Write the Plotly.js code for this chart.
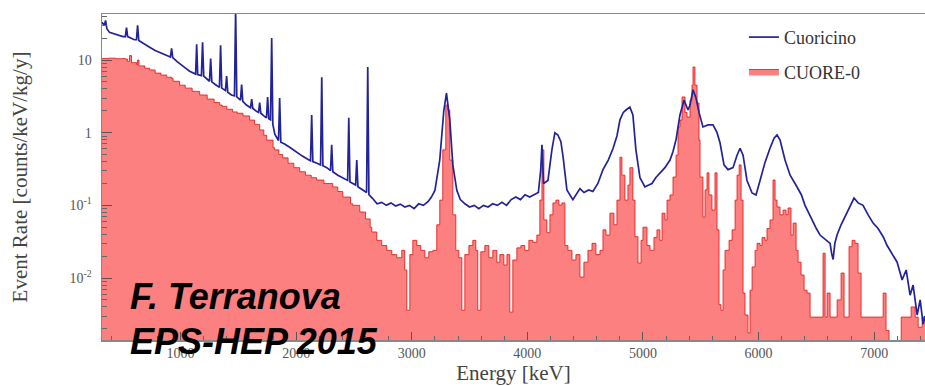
<!DOCTYPE html>
<html>
<head>
<meta charset="utf-8">
<script src="https://cdn.plot.ly/plotly-3.0.1.min.js"></script>
<style>html,body{margin:0;padding:0;background:#fff;}#chart{width:925px;height:386px;}</style>
</head>
<body>
<div id="chart"></div>
<script>
// Cuoricino spectrum (blue line): energy [keV] and rate [counts/keV/kg/y]
const cuoricinoEnergy = [320,340,351,362,385,420,460,500,522,532,542,570,600,618,628,638,680,732,780,830,880,912,922,932,970,1000,1040,1078,1110,1130,1139,1148,1180,1190,1200,1230,1250,1260,1270,1300,1336,1346,1356,1388,1398,1408,1440,1466,1476,1486,1518,1528,1538,1570,1605,1615,1625,1660,1674,1684,1694,1720,1743,1753,1763,1778,1788,1798,1815,1847,1857,1867,1900,1950,2000,2050,2100,2124,2134,2144,2180,2211,2221,2231,2265,2297,2307,2317,2360,2400,2445,2455,2465,2490,2514,2524,2534,2570,2609,2619,2629,2660,2700,2740,2780,2820,2860,2900,2940,2980,3020,3060,3100,3140,3170,3200,3242,3277,3300,3329,3355,3390,3420,3460,3500,3540,3580,3620,3660,3700,3740,3780,3820,3860,3900,3940,3980,4020,4060,4095,4115,4126,4140,4178,4212,4238,4264,4290,4310,4342,4394,4430,4455,4490,4530,4567,4610,4654,4700,4740,4775,4801,4830,4853,4887,4913,4939,4974,5017,5050,5078,5110,5147,5190,5234,5260,5286,5320,5355,5390,5407,5433,5459,5485,5519,5563,5606,5641,5667,5701,5736,5779,5814,5840,5866,5900,5944,5978,6013,6056,6099,6134,6160,6186,6229,6273,6333,6370,6402,6440,6472,6500,6532,6560,6584,6619,6632,6645,6660,6679,6714,6757,6792,6826,6861,6904,6948,6991,7034,7078,7112,7156,7199,7242,7277,7311,7337,7372,7398,7424,7440];
const cuoricinoRate = [33,30,35,27,24,23,22,21,21,28,21,20,19,19,30,18.5,17,15,13.5,12.5,11.5,11,14.5,10.8,9.5,8.8,7.8,7.0,6.6,6.4,16.5,6.3,6.1,17.5,6.0,5.4,5.1,10.5,5.0,4.6,4.2,16,4.1,3.8,6.0,3.6,3.3,3.2,50,3.1,2.8,4.6,2.7,2.4,2.2,2.9,2.15,1.95,1.9,2.6,1.85,1.7,1.6,3.1,1.55,1.5,20,1.3,0.95,0.78,3.0,0.74,0.7,0.62,0.54,0.48,0.43,0.41,1.75,0.4,0.38,0.36,5.8,0.35,0.33,0.30,0.68,0.29,0.26,0.24,0.22,1.6,0.21,0.2,0.19,0.42,0.18,0.165,0.15,8.0,0.14,0.125,0.105,0.11,0.1,0.108,0.098,0.104,0.095,0.1,0.09,0.105,0.1,0.112,0.13,0.16,0.42,2.0,3.5,1.5,0.36,0.16,0.12,0.105,0.095,0.1,0.09,0.1,0.095,0.105,0.1,0.11,0.1,0.12,0.13,0.12,0.14,0.13,0.14,0.15,0.3,0.68,0.2,0.22,0.58,1.0,0.93,0.75,0.45,0.163,0.12,0.15,0.17,0.15,0.163,0.155,0.2,0.31,0.42,0.6,0.9,1.5,1.9,2.05,2.25,1.75,0.58,0.24,0.18,0.19,0.2,0.24,0.28,0.33,0.42,0.55,0.8,1.75,2.8,2.05,2.4,3.9,3.0,1.9,1.2,1.28,1.28,1.0,0.72,0.36,0.31,0.33,0.49,0.61,0.49,0.22,0.148,0.139,0.22,0.39,0.61,0.84,0.93,0.79,0.42,0.26,0.179,0.14,0.1,0.075,0.057,0.048,0.039,0.036,0.033,0.03,0.022,0.018,0.03,0.039,0.054,0.074,0.1,0.126,0.108,0.1,0.074,0.057,0.048,0.037,0.028,0.021,0.0165,0.0094,0.0129,0.0058,0.008,0.0031,0.005,0.0023,0.003];

// CUORE-0 spectrum (red filled histogram)
const cuore0Energy = [320,380,440,500,520,540,558,575,620,628,640,690,732,780,830,879,922,935,991,1040,1100,1165,1230,1290,1338,1360,1400,1450,1490,1540,1597,1640,1684,1720,1745,1800,1814,1850,1883,1930,1980,2030,2080,2130,2177,2240,2316,2360,2403,2470,2489,2550,2600,2640,2654,2697,2740,2784,2827,2870,2913,2939,2957,2983,3009,3043,3078,3113,3147,3182,3216,3242,3268,3294,3312,3329,3355,3381,3407,3433,3459,3494,3528,3554,3571,3597,3632,3667,3701,3736,3762,3797,3823,3848,3874,3909,3944,3978,4013,4048,4082,4108,4126,4143,4169,4195,4221,4247,4273,4299,4325,4351,4386,4420,4455,4489,4524,4559,4593,4628,4654,4680,4714,4749,4775,4801,4818,4844,4870,4887,4913,4931,4957,4983,5000,5035,5061,5095,5121,5147,5165,5191,5208,5234,5260,5286,5303,5320,5338,5364,5381,5407,5424,5433,5450,5468,5485,5494,5519,5537,5554,5571,5597,5623,5641,5658,5675,5693,5710,5745,5771,5797,5814,5832,5849,5866,5883,5909,5926,5944,5970,5987,6013,6030,6056,6073,6099,6125,6143,6160,6186,6212,6238,6255,6281,6299,6325,6342,6368,6394,6420,6446,6481,6515,6541,6558,6576,6593,6619,6654,6680,6714,6740,6766,6783,6809,6835,6861,6887,6922,6956,6991,7026,7060,7078,7103,7129,7216,7234,7277,7320,7355,7381,7415,7440];
const cuore0Rate = [10.5,10.6,10.4,10.5,10.3,9.6,11.5,9.2,8.6,10,8.3,7.7,7.3,6.6,6.2,5.8,5.6,5.1,4.5,4.1,3.7,3.3,2.9,2.6,2.4,2.3,2.1,1.93,1.85,1.7,1.49,1.3,1.09,0.92,0.79,0.62,0.58,0.5,0.45,0.38,0.33,0.29,0.26,0.24,0.223,0.2,0.179,0.155,0.13,0.105,0.1,0.081,0.065,0.05,0.043,0.033,0.028,0.024,0.021,0.019,0.024,0.0129,0.0036,0.021,0.033,0.028,0.024,0.019,0.023,0.024,0.054,0.118,0.58,2.4,2.05,0.42,0.074,0.024,0.019,0.0036,0.021,0.028,0.033,0.024,0.0036,0.023,0.028,0.019,0.024,0.0165,0.021,0.0151,0.021,0.0034,0.0177,0.026,0.028,0.024,0.033,0.031,0.039,0.118,0.58,0.063,0.042,0.074,0.108,0.118,0.101,0.108,0.028,0.024,0.0177,0.021,0.0103,0.0165,0.024,0.03,0.021,0.024,0.046,0.039,0.078,0.054,0.118,0.46,0.26,0.118,0.19,0.33,0.118,0.037,0.0161,0.033,0.05,0.028,0.024,0.036,0.046,0.033,0.078,0.063,0.118,0.139,0.245,0.49,1.2,1.49,3.1,1.9,1.64,2.8,4.5,8.0,4.5,2.56,0.79,0.245,0.069,0.163,0.28,0.139,0.086,0.28,0.046,0.0043,0.0036,0.0129,0.024,0.033,0.046,0.118,0.26,0.36,0.118,0.0062,0.0031,0.00175,0.0068,0.0142,0.024,0.03,0.028,0.036,0.033,0.048,0.063,0.223,0.118,0.095,0.074,0.086,0.074,0.092,0.039,0.057,0.024,0.0165,0.011,0.0068,0.0062,0.0029,0.0029,0.0029,0.0029,0.022,0.0029,0.0062,0.0029,0.0029,0.005,0.0117,0.0029,0.0029,0.027,0.033,0.03,0.0117,0.0029,0.0029,0.0029,0.0029,0.0029,0.0029,0.0062,0.0019,0.0001,0.0001,0.0029,0.0029,0.004,0.0029,0.0021,0.0029,0.0029];

const xTickVals = [1000,2000,3000,4000,5000,6000,7000];
const xTickText = ['1000','2000','3000','4000','5000','6000','7000'];
const yTickVals = [0.01,0.1,1,10];
const yTickText = ['10<sup>-2</sup>','10<sup>-1</sup>','1','10'];
const seriesNames = ['CUORE-0','Cuoricino'];
const labelText = ['F. Terranova','EPS-HEP 2015'];

const yMinor = [];
[0.001,0.01,0.1,1,10].forEach(d => { for (let k=2;k<=9;k++) yMinor.push(d*k); });

const serif = 'Liberation Serif, Times New Roman, serif';

const traces = [
  {
    x: cuore0Energy, y: cuore0Rate, name: seriesNames[0], type: 'scatter', mode: 'lines',
    line: {color: '#e41010', width: 0.8, shape: 'hv'},
    fill: 'tozeroy', fillcolor: '#fc8080', legendgroup: 'b', legendrank: 2
  },
  {
    x: cuoricinoEnergy, y: cuoricinoRate, name: seriesNames[1], type: 'scatter', mode: 'lines',
    line: {color: '#22229a', width: 1.7, shape: 'linear'}, legendgroup: 'a', legendrank: 1
  }
];

const layout = {
  width: 925, height: 386,
  margin: {l: 102, r: 0, t: 14, b: 46},
  paper_bgcolor: '#fff', plot_bgcolor: '#fff',
  font: {family: serif, color: '#444'},
  showlegend: true,
  legend: {x: 0.78, y: 0.985, xanchor: 'left', yanchor: 'top', bgcolor: 'rgba(0,0,0,0)',
           font: {family: serif, size: 18, color: '#333'}, traceorder: 'grouped', tracegroupgap: 8},
  xaxis: {
    range: [320, 7440], showgrid: false, zeroline: false,
    showline: true, mirror: true, linecolor: '#888', linewidth: 1.5,
    ticks: 'inside', ticklen: 8, tickcolor: '#555', tickwidth: 1,
    tickmode: 'array', tickvals: xTickVals, ticktext: xTickText,
    tickfont: {family: serif, size: 14, color: '#555'},
    minor: {ticks: 'inside', ticklen: 4, dtick: 200, tickcolor: '#666', showgrid: false},
    title: {text: 'Energy [keV]', font: {family: serif, size: 21, color: '#444'}, standoff: 2}
  },
  yaxis: {
    type: 'log', range: [-2.853, 1.633], showgrid: false, zeroline: false,
    showline: true, mirror: true, linecolor: '#888', linewidth: 1.5,
    ticks: 'inside', ticklen: 10, tickcolor: '#555', tickwidth: 1,
    tickmode: 'array', tickvals: yTickVals, ticktext: yTickText,
    tickfont: {family: serif, size: 14, color: '#555'},
    minor: {ticks: 'inside', ticklen: 5, tickmode: 'array', tickvals: yMinor, tickcolor: '#666', showgrid: false},
    ticklabelstandoff: 6,
    title: {text: 'Event Rate [counts/keV/kg/y]', font: {family: serif, size: 21, color: '#444'}, standoff: 36}
  },
  annotations: [
    {text: labelText[0], xref: 'paper', yref: 'paper', x: 0.031, y: 0.132, xanchor: 'left', yanchor: 'middle',
     showarrow: false, font: {family: 'Liberation Sans, Arial, sans-serif', size: 36, color: '#000', weight: 'bold', style: 'italic'}},
    {text: labelText[1], xref: 'paper', yref: 'paper', x: 0.031, y: -0.006, xanchor: 'left', yanchor: 'middle',
     showarrow: false, font: {family: 'Liberation Sans, Arial, sans-serif', size: 36, color: '#000', weight: 'bold', style: 'italic'}}
  ]
};

Plotly.newPlot('chart', traces, layout, {displayModeBar: false, staticPlot: true});
</script>
</body>
</html>
